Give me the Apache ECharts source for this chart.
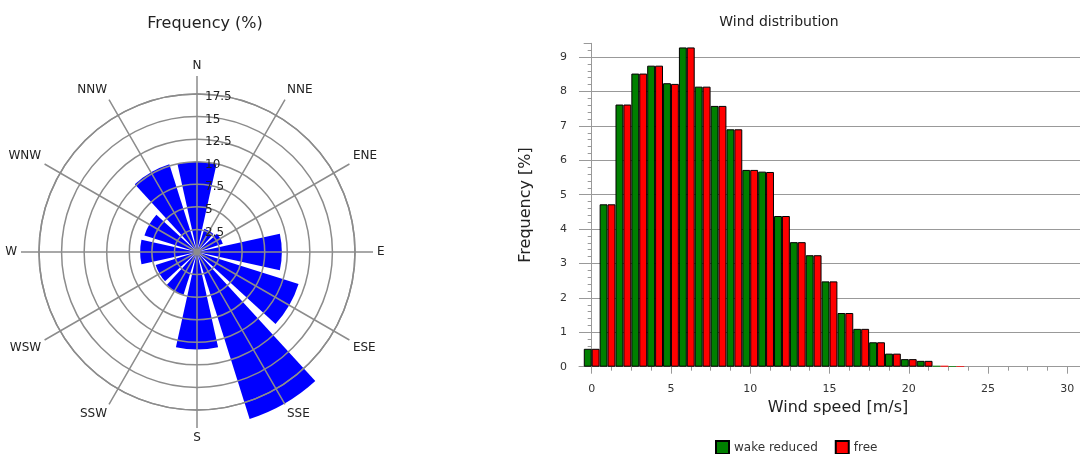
<!DOCTYPE html>
<html>
<head>
<meta charset="utf-8">
<script src="https://cdn.jsdelivr.net/npm/echarts@6/dist/echarts.min.js"></script>
<style>
html, body { margin: 0; padding: 0; background: #fff; }
#chart { width: 1080px; height: 454px; }
</style>
</head>
<body>
<div id="chart"></div>
<script>
// wind rose, 12 sectors (% of time)
var directions = ['N', 'NNE', 'ENE', 'E', 'ESE', 'SSE', 'S', 'SSW', 'WSW', 'W', 'WNW', 'NNW'];
var directionAngles = [0, 30, 60, 90, 120, 150, 180, 210, 240, 270, 300, 330];
var roseFreq = [10.0, 2.7, 3.0, 9.4, 11.8, 19.4, 10.8, 5.0, 4.8, 6.3, 6.1, 10.2];

// wind speed histogram (bin centre in m/s, frequency in %)
var speedBins = [0, 1, 2, 3, 4, 5, 6, 7, 8, 9, 10, 11, 12, 13, 14, 15, 16, 17, 18, 19, 20, 21, 22, 23];
var wakeReduced = [0.52, 4.72, 7.62, 8.52, 8.75, 8.24, 9.28, 8.14, 7.58, 6.9, 5.72, 5.67,
                   4.38, 3.62, 3.24, 2.48, 1.56, 1.1, 0.71, 0.38, 0.22, 0.17, 0.03, 0.02];
var free = [0.52, 4.72, 7.62, 8.52, 8.75, 8.22, 9.28, 8.14, 7.58, 6.9, 5.72, 5.66,
            4.38, 3.62, 3.24, 2.48, 1.56, 1.1, 0.71, 0.38, 0.22, 0.17, 0.03, 0.02];
var speedTicks = [0, 5, 10, 15, 20, 25, 30];

var font = 'DejaVu Sans';
var lineGray = '#8c8c8c';

var minorSpeedTicks = [];
for (var t = 0; t <= 30; t += 1.25) minorSpeedTicks.push(t);

function histData(values) {
  return speedBins.map(function (b, i) {
    var item = { value: [b, values[i]] };
    // tiny bins are drawn without outline
    if (values[i] < 0.1) item.itemStyle = { borderWidth: 0 };
    return item;
  });
}

var chart = echarts.init(document.getElementById('chart'));

var option = {
  animation: false,
  textStyle: { fontFamily: font },
  title: [
    { text: 'Frequency (%)', left: 200, top: 11, textAlign: 'center',
      textStyle: { fontSize: 16, fontWeight: 'normal', color: '#222', fontFamily: font } },
    { text: 'Wind distribution', left: 774, top: 10, textAlign: 'center',
      textStyle: { fontSize: 14, fontWeight: 'normal', color: '#222', fontFamily: font } }
  ],
  legend: {
    data: ['wake reduced', 'free'],
    left: 710, top: 435,
    icon: 'rect', itemWidth: 13, itemHeight: 13, itemGap: 17,
    textStyle: { fontSize: 12, color: '#333', fontFamily: font }
  },
  polar: [
    { center: [197, 252], radius: 176 },
    { center: [197, 252], radius: 158 }
  ],
  angleAxis: [
    {
      polarIndex: 0, type: 'value', min: 0, max: 360, interval: 30,
      startAngle: 90, clockwise: true, z: 3,
      axisLine: { show: false },
      axisTick: { show: false },
      splitLine: { show: true, lineStyle: { color: lineGray, width: 1.5 } },
      axisLabel: {
        margin: 4, fontSize: 12, color: '#222', fontFamily: font,
        formatter: function (v) {
          var i = directionAngles.indexOf(v);
          return i >= 0 && v < 360 ? directions[i] : '';
        }
      }
    },
    {
      polarIndex: 1, type: 'value', min: 0, max: 360, startAngle: 90, z: 3,
      axisLine: { show: true, lineStyle: { color: lineGray, width: 1.5 } },
      axisTick: { show: false },
      axisLabel: { show: false },
      splitLine: { show: false }
    }
  ],
  radiusAxis: [
    {
      polarIndex: 0, type: 'value', min: 0, max: 19.5,
      axisLine: { show: false }, axisTick: { show: false },
      axisLabel: { show: false }, splitLine: { show: false }
    },
    {
      polarIndex: 1, type: 'value', min: 0, max: 17.5, interval: 2.5, z: 3,
      axisLine: { show: false }, axisTick: { show: false },
      splitLine: { show: true, lineStyle: { color: lineGray, width: 1.5 } },
      axisLabel: {
        fontSize: 12, color: '#222', fontFamily: font, margin: -8,
        align: 'left', verticalAlign: 'top', lineHeight: 6,
        showMinLabel: false
      }
    }
  ],
  grid: {
    left: 579, right: 0, top: 43.3, bottom: 87.3,
    outerBoundsMode: 'none'
  },
  xAxis: [
    {
      type: 'value', min: -0.8, max: 30.8,
      axisLine: { show: true, lineStyle: { color: '#999' } },
      axisTick: { show: true, customValues: minorSpeedTicks, length: 4, lineStyle: { color: '#999' } },
      axisLabel: { customValues: speedTicks, margin: 17, fontSize: 11, color: '#333', fontFamily: font },
      splitLine: { show: false },
      name: 'Wind speed [m/s]', nameLocation: 'middle', nameGap: 32,
      nameTextStyle: { fontSize: 16, color: '#222', fontFamily: font, padding: [0, 0, 0, 17] }
    },
    {
      type: 'value', min: -0.8, max: 30.8, position: 'bottom',
      axisLine: { show: false },
      axisTick: { show: true, customValues: speedTicks, length: 7, lineStyle: { color: '#999' } },
      axisLabel: { show: false },
      splitLine: { show: false }
    }
  ],
  yAxis: {
    type: 'value', min: 0, max: 9.4, interval: 1,
    axisLine: { show: true, lineStyle: { color: '#999' } },
    axisTick: { show: true, length: 8, lineStyle: { color: '#999' } },
    minorTick: { show: true, splitNumber: 5, length: 4, lineStyle: { color: '#999' } },
    splitLine: { show: true, showMinLine: false, showMaxLine: false, lineStyle: { color: '#999', width: 1.2 } },
    axisLabel: { margin: 12, fontSize: 11, color: '#333', fontFamily: font, showMaxLabel: false },
    name: 'Frequency [%]', nameLocation: 'middle', nameGap: 45, nameRotate: 90,
    nameTextStyle: { fontSize: 16, color: '#222', fontFamily: font }
  },
  series: [
    {
      name: 'rose', type: 'bar', coordinateSystem: 'polar', polarIndex: 0,
      barWidth: 25, z: 2,
      itemStyle: { color: '#0000ff' },
      data: directionAngles.map(function (a, i) { return [roseFreq[i], a]; })
    },
    {
      name: 'wake reduced', type: 'bar', xAxisIndex: 0, yAxisIndex: 0,
      barWidth: 7.9, barGap: '0%',
      itemStyle: { color: '#008000', borderColor: '#000', borderWidth: 1 },
      data: histData(wakeReduced)
    },
    {
      name: 'free', type: 'bar', xAxisIndex: 0, yAxisIndex: 0,
      barWidth: 7.9, barGap: '0%',
      itemStyle: { color: '#ff0000', borderColor: '#000', borderWidth: 1 },
      data: histData(free)
    }
  ]
};

chart.setOption(option);
window.addEventListener('resize', function () {
  chart.resize();
});
</script>
</body>
</html>
